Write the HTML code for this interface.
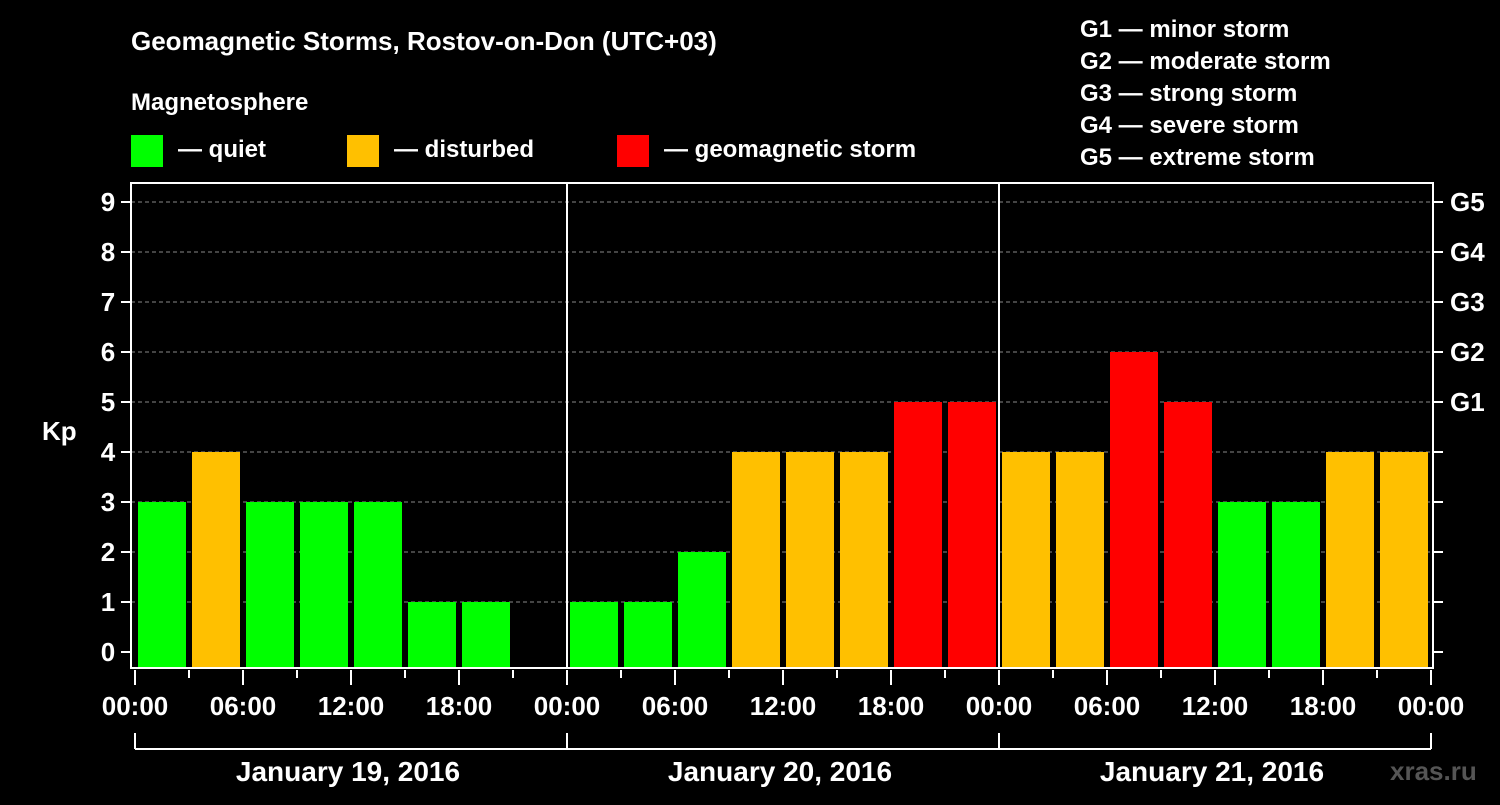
<!DOCTYPE html>
<html><head><meta charset="utf-8"><style>
body{margin:0;background:#000;width:1500px;height:800px;overflow:hidden}
svg text{font-family:"Liberation Sans",sans-serif;font-weight:bold;fill:#fff}
</style></head><body>
<svg id="c" width="1500" height="800" xmlns="http://www.w3.org/2000/svg">
<text x="131" y="50" font-size="26">Geomagnetic Storms, Rostov-on-Don (UTC+03)</text>
<text x="131" y="110" font-size="24">Magnetosphere</text>
<rect x="131" y="135" width="32" height="32" fill="#00ff00"/>
<text x="178" y="157" font-size="24">— quiet</text>
<rect x="347" y="135" width="32" height="32" fill="#ffc000"/>
<text x="394" y="157" font-size="24">— disturbed</text>
<rect x="617" y="135" width="32" height="32" fill="#ff0000"/>
<text x="664" y="157" font-size="24">— geomagnetic storm</text>
<g font-size="24">
<text x="1080" y="37">G1 — minor storm</text>
<text x="1080" y="69">G2 — moderate storm</text>
<text x="1080" y="101">G3 — strong storm</text>
<text x="1080" y="133">G4 — severe storm</text>
<text x="1080" y="165">G5 — extreme storm</text>
</g>
<text x="42" y="440" font-size="26">Kp</text>
<text x="1390" y="780" font-size="26" fill="#666" style="fill:#555">xras.ru</text>
<g id="grid"></g><g id="bars"></g><g id="axes"></g>
</svg>
<script>
const kpValues=[3,4,3,3,3,1,1,0, 1,1,2,4,4,4,5,5, 4,4,6,5,3,3,4,4];
const dayLabels=["January 19, 2016","January 20, 2016","January 21, 2016"];
const hourLabels=["00:00","06:00","12:00","18:00"];
const yTicks=[0,1,2,3,4,5,6,7,8,9];
const gLabels=["G1","G2","G3","G4","G5"];
const NS="http://www.w3.org/2000/svg";
const X0=135,DAY=432,SLOT=54,BOTTOM=668,TOP=183;
const y=v=>652-v*50;
const x=i=>X0+i*SLOT;
function mk(t,a,p){const e=document.createElementNS(NS,t);for(const k in a)e.setAttribute(k,a[k]);p.appendChild(e);return e;}
const grid=document.getElementById('grid'),bars=document.getElementById('bars'),axes=document.getElementById('axes');
yTicks.forEach(v=>{
 if(v>0){const l=mk('line',{x1:131,x2:1433,y1:y(v),y2:y(v),stroke:'#888','stroke-dasharray':'4,3','stroke-width':1},grid);
 
 }
 const t=mk('line',{x1:121,x2:131,y1:y(v),y2:y(v),stroke:'#fff','stroke-width':2},axes);
 
 
 const r=mk('line',{x1:1433,x2:1443,y1:y(v),y2:y(v),stroke:'#fff','stroke-width':2},axes);
 
 
 const tx=mk('text',{x:108,y:y(v)+9,'font-size':26,'text-anchor':'middle'},axes);tx.textContent=v;
 
 
});
gLabels.forEach((g,i)=>{const tx=mk('text',{x:1450,y:y(5+i)+9,'font-size':26},axes);tx.textContent=g;
 
 });
kpValues.forEach((v,i)=>{
 if(v<=0)return;
 const c=v>=5?'#ff0000':v>=4?'#ffc000':'#00ff00';
 const r=mk('rect',{x:x(i)+3,y:y(v),width:SLOT-6,height:BOTTOM-1-y(v),fill:c},bars);
 
 
});
const fr=mk('rect',{x:131,y:TOP,width:1302,height:BOTTOM-TOP,fill:'none',stroke:'#fff','stroke-width':2},axes);


for(let d=1;d<3;d++){const l=mk('line',{x1:X0+d*DAY-3+3,x2:X0+d*DAY,y1:TOP,y2:BOTTOM,stroke:'#fff','stroke-width':2},axes);
 
 }
for(let i=0;i<=24;i++){
 const major=i%2===0;const l=mk('line',{x1:x(i),x2:x(i),y1:BOTTOM+2,y2:BOTTOM+(major?17:10),stroke:'#fff','stroke-width':2},axes);
 
 
 if(major){const tx=mk('text',{x:x(i),y:715,'font-size':26,'text-anchor':'middle'},axes);tx.textContent=hourLabels[(i/2)%4];
 
 }
}
const br=mk('line',{x1:X0,x2:X0+3*DAY,y1:749,y2:749,stroke:'#fff','stroke-width':2},axes);


for(let d=0;d<=3;d++){const l=mk('line',{x1:X0+d*DAY,x2:X0+d*DAY,y1:733,y2:749,stroke:'#fff','stroke-width':2},axes);
 
 }
dayLabels.forEach((s,d)=>{const tx=mk('text',{x:X0+d*DAY+DAY/2-3,y:781,'font-size':28,'text-anchor':'middle'},axes);tx.textContent=s;
 
 });
</script>
</body></html>
